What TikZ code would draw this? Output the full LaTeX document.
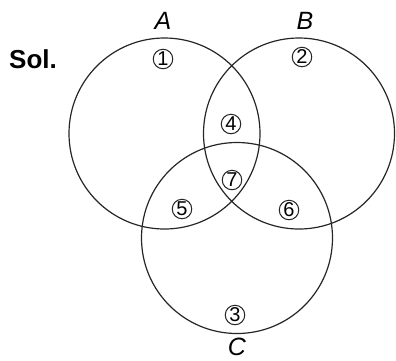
\documentclass[tikz,border=0pt]{standalone}
\usepackage{fontspec}
\setmainfont{Liberation Sans}
\begin{document}
\begin{tikzpicture}[x=1pt,y=-1pt,
  setring/.style={draw=black!85, line width=1.2pt},
  setname/.style={font=\fontsize{25}{25}\selectfont\itshape, inner sep=0pt},
  region/.style={circle, draw=black!85, line width=1pt, minimum size=19.5pt, inner sep=0pt,
                 font=\fontsize{20}{20}\selectfont},
  heading/.style={font=\fontsize{26}{26}\selectfont\bfseries, inner sep=0pt}]
\useasboundingbox (0,0) rectangle (396,360);
% the three sets
\draw[setring] (164.5,133.5) circle[radius=95.5pt];
\draw[setring] (299,133.5) circle[radius=95.5pt];
\draw[setring] (237,238) circle[radius=95.5pt];
% set names
\node[setname] (la) at (163,21) {A};
\node[setname] (lb) at (305,21) {B};
\node[setname] (lc) at (237,346.5) {C};
\node[heading] (sol) at (33,59) {Sol.};
% numbered regions
\node[region] (r1) at (163,59) {1};
\node[region] (r2) at (302,57) {2};
\node[region] (r3) at (235,315) {3};
\node[region] (r4) at (231,124) {4};
\node[region] (r5) at (182,209) {5};
\node[region] (r6) at (289,210) {6};
\node[region] (r7) at (232,180) {7};
\end{tikzpicture}
\end{document}
